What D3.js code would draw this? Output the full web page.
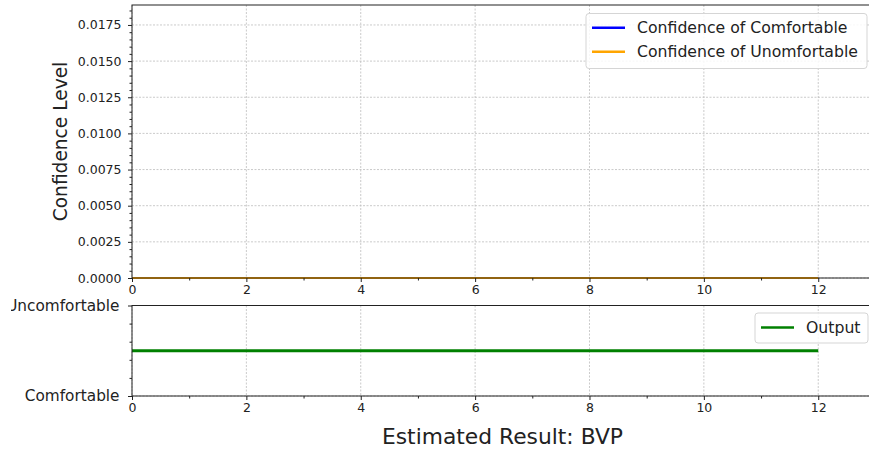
<!DOCTYPE html>
<html><head><meta charset="utf-8">
<script src="https://cdn.jsdelivr.net/npm/d3@7"></script>
<style>
body{margin:0;background:#fff;}
svg{display:block;font-family:"DejaVu Sans",sans-serif;}
</style></head>
<body><svg id="c" width="869" height="452"></svg>
<script>
const xValues = [0,1,2,3,4,5,6,7,8,9,10,11,12];
const confComfortable = [0,0,0,0,0,0,0,0,0,0,0,0,0];
const confUncomfortable = [0,0,0,0,0,0,0,0,0,0,0,0,0];
const outputValues = [0.5,0.5,0.5,0.5,0.5,0.5,0.5,0.5,0.5,0.5,0.5,0.5,0.5];
const xTicks = [0,2,4,6,8,10,12];
const xMinor = [1,3,5,7,9,11];
const yTicksTop = [0,0.0025,0.005,0.0075,0.01,0.0125,0.015,0.0175];
const yTicksBottom = [0,1];
const yTickLabelsBottom = ["Comfortable","Uncomfortable"];
const legendTop = ["Confidence of Comfortable","Confidence of Unomfortable"];
const legendBottom = ["Output"];

const svg = d3.select("#c");
svg.append("defs").append("clipPath").attr("id","figclip")
  .append("rect").attr("x",11).attr("y",0).attr("width",869).attr("height",452);
const root = svg.append("g").attr("clip-path","url(#figclip)");

const L = 132, R = 872;
const x = d3.scaleLinear().domain([0, 12.94]).range([L, R]);
const yTop = d3.scaleLinear().domain([0, 0.01888]).range([278, 5]);
const yBot = d3.scaleLinear().domain([0, 1]).range([396, 305.5]);

const gridColor = "#bdbdbd";
function grid(g, yScale, yt, top, bottom){
  g.selectAll(".vg").data(xTicks).join("line")
    .attr("x1", d=>x(d)).attr("x2", d=>x(d)).attr("y1", top).attr("y2", bottom)
    .attr("stroke", gridColor).attr("stroke-width",0.8).attr("stroke-dasharray","2,1.5");
  g.selectAll(".hg").data(yt).join("line")
    .attr("x1", L).attr("x2", R).attr("y1", d=>yScale(d)).attr("y2", d=>yScale(d))
    .attr("stroke", gridColor).attr("stroke-width",0.8).attr("stroke-dasharray","2,1.5");
}
const gt = root.append("g"); grid(gt, yTop, yTicksTop, 5, 278);
const gb = root.append("g"); grid(gb, yBot, yTicksBottom, 305.5, 396);

// lines
const lineTop = (arr) => d3.line().x((d,i)=>x(xValues[i])).y(d=>yTop(d))(arr);
root.append("path").attr("d", lineTop(confComfortable)).attr("fill","none").attr("stroke","#0000ff").attr("stroke-width",2);
root.append("path").attr("d", lineTop(confUncomfortable)).attr("fill","none").attr("stroke","#ffa500").attr("stroke-width",2);
root.append("path").attr("d", d3.line().x((d,i)=>x(xValues[i])).y(d=>yBot(d))(outputValues))
  .attr("fill","none").attr("stroke","#008000").attr("stroke-width",3);

// axes
function styleAxis(g, fs){
  g.select(".domain").remove();
  g.selectAll(".tick line").attr("stroke","#222").attr("stroke-width",1);
  g.selectAll(".tick text").attr("fill","#222").style("font-family","DejaVu Sans").style("font-size",fs+"px");
}
function xAxes(yPos){
  const a = root.append("g").attr("transform",`translate(0,${yPos})`)
    .call(d3.axisBottom(x).tickValues(xTicks).tickFormat(d3.format("d")).tickSizeInner(4).tickPadding(3));
  styleAxis(a, 12.5);
  const m = root.append("g").attr("transform",`translate(0,${yPos})`)
    .call(d3.axisBottom(x).tickValues(xMinor).tickFormat("").tickSizeInner(2.5));
  styleAxis(m, 12.5);
}
xAxes(278); xAxes(396);

const yaT = root.append("g").attr("transform",`translate(${L},0)`)
  .call(d3.axisLeft(yTop).tickValues(yTicksTop).tickFormat(d3.format(".4f")).tickSizeInner(4).tickPadding(6.5));
styleAxis(yaT, 12.5);
const minorTop = d3.range(0, 0.0188, 0.0005).filter(v => Math.abs(v/0.0025 - Math.round(v/0.0025))>1e-6);
const ymT = root.append("g").attr("transform",`translate(${L},0)`)
  .call(d3.axisLeft(yTop).tickValues(minorTop).tickFormat("").tickSizeInner(2.5));
styleAxis(ymT, 12.5);

const yaB = root.append("g").attr("transform",`translate(${L},0)`)
  .call(d3.axisLeft(yBot).tickValues(yTicksBottom).tickFormat((d,i)=>yTickLabelsBottom[i]).tickSizeInner(4).tickPadding(8.5));
styleAxis(yaB, 15.3);
const ymB = root.append("g").attr("transform",`translate(${L},0)`)
  .call(d3.axisLeft(yBot).tickValues([0.2,0.4,0.6,0.8]).tickFormat("").tickSizeInner(2.5));
styleAxis(ymB, 12.5);

// spines
function spines(top, bottom){
  root.append("rect").attr("x",L).attr("y",top).attr("width",R-L).attr("height",bottom-top)
    .attr("fill","none").attr("stroke","#222").attr("stroke-width",1);
}
spines(5,278); spines(305.5,396);

// labels
root.append("text").attr("transform",`translate(67,141.5) rotate(-90)`).attr("text-anchor","middle")
  .style("font-size","18.6px").attr("fill","#222").text("Confidence Level");
root.append("text").attr("x",502.5).attr("y",444).attr("text-anchor","middle")
  .style("font-size","21.8px").attr("fill","#222").text("Estimated Result: BVP");

// legends
function legend(x0, y0, w, h, lineY0, step, items, colors, lw){
  const g = root.append("g");
  g.append("rect").attr("x",x0).attr("y",y0).attr("width",w).attr("height",h).attr("rx",3)
    .attr("fill","#fff").attr("fill-opacity",0.85).attr("stroke","#d5d5d5").attr("stroke-width",1);
  items.forEach((t,i)=>{
    const yy = lineY0 + i*step;
    g.append("line").attr("x1",x0+6).attr("x2",x0+39).attr("y1",yy).attr("y2",yy)
      .attr("stroke",colors[i]).attr("stroke-width",lw);
    g.append("text").attr("x",x0+51).attr("y",yy).attr("dy","0.35em").style("font-size","15.7px")
      .attr("fill","#222").text(t);
  });
}
legend(586, 13.5, 281, 55, 27.7, 24, legendTop, ["#0000ff","#ffa500"], 2.5);
legend(755, 313, 113, 30, 327.5, 24, legendBottom, ["#008000"], 2.5);
</script></body></html>
